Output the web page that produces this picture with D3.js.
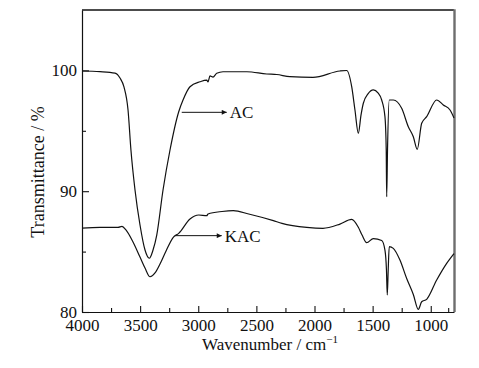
<!DOCTYPE html>
<html>
<head>
<meta charset="utf-8">
<script src="https://cdn.jsdelivr.net/npm/d3@7"></script>
<style>
  body { margin: 0; background: #fff; }
  text { font-family: "Liberation Serif", "Times New Roman", serif; fill: #111; }
</style>
</head>
<body>
<div id="chart"></div>
<script>
// spectra (wavenumber in cm-1, transmittance in %)
var acWavenumber = [4000, 3845, 3716, 3673, 3639, 3604, 3579, 3544, 3501, 3458, 3421, 3389, 3357, 3303, 3243,
  3168, 3131, 3071, 2985, 2927, 2916, 2899, 2873, 2841, 2787, 2581, 2411, 2325, 2211, 2013, 1781, 1723,
  1680, 1652, 1623, 1600, 1580, 1540, 1494, 1454, 1422, 1394, 1383, 1379, 1372, 1357, 1322, 1250, 1193,
  1150, 1116, 1078, 1035, 949, 892, 834, 800];
var acTransmittance = [99.95, 99.9, 99.78, 99.37, 98.63, 96.72, 93.41, 90.1, 87.2, 85.13, 84.45, 85.13, 86.37, 90.1, 93.41,
  96.58, 97.55, 98.65, 99.06, 99.2, 99.04, 99.54, 99.45, 99.76, 99.89, 99.89, 99.7, 99.66, 99.48, 99.43, 99.95, 99.99,
  98.65, 96.72, 94.79, 96.3, 97.28, 98.05, 98.38, 98.13, 97.55, 96.17, 93.4, 89.54, 93.4, 97.55, 97.55, 96.86, 95.34,
  94.51, 93.47, 95.62, 96.17, 97.55, 97.14, 96.72, 96.06];

var kacWavenumber = [4000, 3845, 3690, 3656, 3622, 3570, 3501, 3458, 3415, 3372, 3329, 3277, 3215, 3168, 3071,
  2996, 2927, 2916, 2796, 2698, 2566, 2354, 2280, 2067, 1927, 1781, 1680, 1623, 1591, 1551, 1494, 1422,
  1394, 1381, 1374, 1366, 1357, 1322, 1265, 1207, 1150, 1107, 1078, 1035, 949, 863, 800];
var kacTransmittance = [86.95, 87.0, 87.01, 87.09, 86.79, 85.96, 84.55, 83.64, 82.92, 83.23, 83.97, 85.05, 86.18, 86.51, 87.7,
  88.03, 87.97, 88.11, 88.32, 88.39, 88.11, 87.56, 87.34, 87.01, 86.93, 87.28, 87.66, 87.01, 86.37, 85.74, 86.08, 85.92,
  85.13, 83.48, 81.41, 83.48, 85.41, 85.27, 84.3, 82.77, 81.45, 80.22, 80.85, 81.05, 82.65, 84.03, 84.84];

var xTicks = [4000, 3500, 3000, 2500, 2000, 1500, 1000];
var xMinorTicks = [3750, 3250, 2750, 2250, 1750, 1250, 850];
var yTicks = [80, 90, 100];
var yMinorTicks = [85, 95];

// labels with arrows: arrow start wavenumber, arrow tip wavenumber, transmittance level
var labelNames = ["AC", "KAC"];
var labelStart = [3142, 3200];
var labelTip = [2755, 2798];
var labelLevel = [96.53, 86.32];

var W = 479, H = 368;
var plotLeft = 82, plotRight = 454, plotTop = 10, plotBottom = 312;

var svg = d3.select("#chart").append("svg")
  .attr("width", W)
  .attr("height", H);

var x = d3.scaleLinear().domain([4000, 800]).range([plotLeft, plotRight]);
var y = d3.scaleLinear().domain([80, 105]).range([plotBottom, plotTop]);

// arrow head
svg.append("defs").append("marker")
  .attr("id", "head")
  .attr("viewBox", "0 0 10 10")
  .attr("refX", 10).attr("refY", 5)
  .attr("markerWidth", 8).attr("markerHeight", 5)
  .attr("markerUnits", "userSpaceOnUse")
  .attr("orient", "auto")
  .append("path").attr("d", "M0,0L10,5L0,10Z").attr("fill", "#111");

// frame (top and right)
svg.append("line").attr("x1", plotLeft).attr("x2", plotRight).attr("y1", plotTop).attr("y2", plotTop)
  .attr("stroke", "#111").attr("stroke-width", 1.4);
svg.append("line").attr("x1", plotRight + 0.5).attr("x2", plotRight + 0.5).attr("y1", plotTop - 0.7).attr("y2", plotBottom)
  .attr("stroke", "#6e6e6e").attr("stroke-width", 2.4);

// X axis
svg.append("g")
  .attr("transform", "translate(0," + plotBottom + ")")
  .call(d3.axisBottom(x).tickValues(xTicks).tickFormat(d3.format("d"))
    .tickSize(-6).tickSizeOuter(0).tickPadding(7));
svg.append("g")
  .attr("transform", "translate(0," + plotBottom + ")")
  .call(d3.axisBottom(x).tickValues(xMinorTicks).tickSize(-4).tickSizeOuter(0).tickFormat(""))
  .select(".domain").remove();

// Y axis
var yAxis = svg.append("g")
  .attr("transform", "translate(" + plotLeft + ",0)")
  .call(d3.axisLeft(y).tickValues(yTicks).tickFormat(d3.format("d"))
    .tickSize(-7).tickSizeOuter(0).tickPadding(5));
svg.append("g")
  .attr("transform", "translate(" + plotLeft + ",0)")
  .call(d3.axisLeft(y).tickValues(yMinorTicks).tickSize(-4).tickSizeOuter(0).tickFormat(""))
  .select(".domain").remove();

svg.selectAll(".domain").attr("stroke", "#111").attr("stroke-width", 1.2);
svg.selectAll(".tick line").attr("stroke", "#111").attr("stroke-width", 1.1);
svg.selectAll(".tick text")
  .attr("font-size", "17px")
  .attr("font-family", "Liberation Serif, Times New Roman, serif")
  .attr("fill", "#111");
yAxis.selectAll(".tick text").attr("dy", "0.3em");

// spectra
var line = d3.line()
  .x(function(d) { return x(d[0]); })
  .y(function(d) { return y(d[1]); })
  .curve(d3.curveMonotoneX);

var acData = d3.zip(acWavenumber, acTransmittance);
var kacData = d3.zip(kacWavenumber, kacTransmittance);

[acData, kacData].forEach(function(d) {
  svg.append("path")
    .datum(d)
    .attr("d", line)
    .attr("fill", "none")
    .attr("stroke", "#111")
    .attr("stroke-width", 1.2)
    .attr("stroke-linejoin", "round");
});

// labels with arrows
labelNames.forEach(function(name, i) {
  svg.append("line")
    .attr("x1", x(labelStart[i])).attr("x2", x(labelTip[i]))
    .attr("y1", y(labelLevel[i])).attr("y2", y(labelLevel[i]))
    .attr("stroke", "#111").attr("stroke-width", 1)
    .attr("marker-end", "url(#head)");
  svg.append("text")
    .attr("x", x(labelTip[i]) + 3)
    .attr("y", y(labelLevel[i]))
    .attr("dy", "0.35em")
    .attr("font-size", "17px")
    .text(name);
});

// axis titles
svg.append("text")
  .attr("transform", "translate(44," + ((plotTop + plotBottom) / 2 + 11) + ")rotate(-90)")
  .attr("text-anchor", "middle")
  .attr("font-size", "18px")
  .text("Transmittance / %");

var xt = svg.append("text")
  .attr("x", (plotLeft + plotRight) / 2 + 2)
  .attr("y", 350)
  .attr("text-anchor", "middle")
  .attr("font-size", "17px");
xt.append("tspan").text("Wavenumber / cm");
xt.append("tspan").attr("dy", -7).attr("font-size", "11px").text("\u22121");
</script>
</body>
</html>
